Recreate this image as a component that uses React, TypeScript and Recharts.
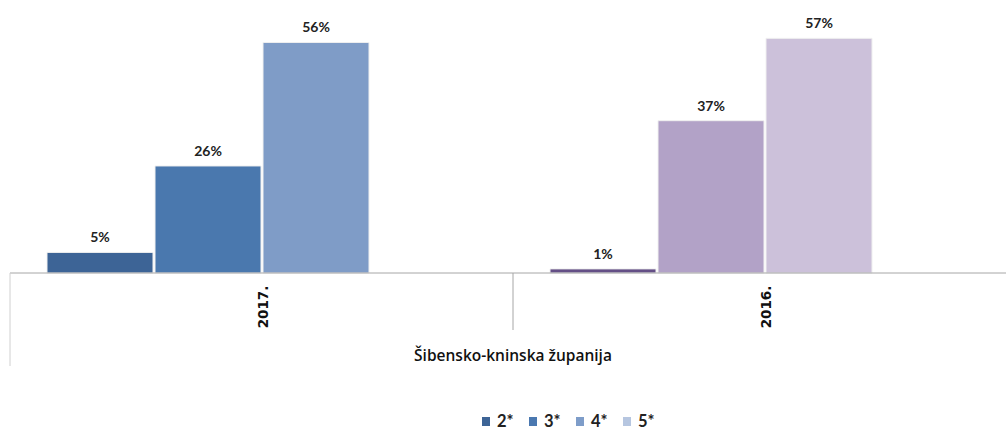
import React from 'react';
import { BarChart, Bar, XAxis, YAxis, Legend, Cell, LabelList, Label } from 'recharts';

const categories = ['2017.', '2016.'];
const seriesNames = ['2*', '3*', '4*', '5*'];
const values2: (number | null)[] = [5, 1];
const values3: (number | null)[] = [26, 37];
const values4: (number | null)[] = [56, 57];
const values5: (number | null)[] = [null, null];
const groupLabel = 'Šibensko-kninska županija';

const legendColors = ['#3d6496', '#4a78b0', '#7e9dc9', '#b6c6e0'];
const cellColors: string[][] = [
  ['#3d6496', '#644f86'],
  ['#4a78ae', '#b2a2c7'],
  ['#7f9cc7', '#ccc1da'],
  ['#b6c6e0', '#e0daea'],
];

const seriesValues = [values2, values3, values4, values5];
const keys = ['s2', 's3', 's4', 's5'];

const data = categories.map((c, i) => ({
  name: c,
  s2: values2[i],
  s3: values3[i],
  s4: values4[i],
  s5: values5[i],
}));

const FONT = 'Lato, "Open Sans", sans-serif';

const renderValueLabel = (props: any) => {
  const { x, y, width, value } = props;
  if (value === null || value === undefined) return null;
  return (
    <text
      x={x + width / 2}
      y={y - 10}
      textAnchor="middle"
      fontFamily={FONT}
      fontWeight={700}
      fontSize={14}
      fill="#222"
    >
      {value}%
    </text>
  );
};

const CategoryTick = (props: any) => {
  const { x, y, payload, index } = props;
  const off = payload && payload.offset ? payload.offset : 0;
  const left = x - off;
  const right = x + off;
  return (
    <g>
      <line
        x1={left}
        y1={y}
        x2={left}
        y2={y + (index === 0 ? 93 : 57)}
        stroke={index === 0 ? '#d0d0d0' : '#a6a6a6'}
        strokeWidth={1}
      />
      {index === categories.length - 1 && (
        <line x1={right} y1={y} x2={right} y2={y + 93} stroke="#d0d0d0" strokeWidth={1} />
      )}
      <text
        transform={`translate(${x + 1}, ${y + 34}) rotate(-90)`}
        textAnchor="middle"
        dominantBaseline="central"
        fontFamily='"DejaVu Sans", Verdana, sans-serif'
        fontWeight={700}
        fontSize={13.5}
        fill="#111"
      >
        {payload.value}
      </text>
    </g>
  );
};

const GroupLabel = (props: any) => {
  const vb = props.viewBox || { x: 10, y: 273, width: 1006 };
  return (
    <text
      x={vb.x + vb.width / 2}
      y={vb.y + 88}
      textAnchor="middle"
      fontFamily='"Open Sans", Lato, sans-serif'
      fontWeight={600}
      fontSize={15.5}
      fill="#111"
    >
      {groupLabel}
    </text>
  );
};

const LegendContent = () => (
  <div style={{ display: 'flex', alignItems: 'center', height: 20 }}>
    {seriesNames.map((n, i) => (
      <div key={n} style={{ display: 'flex', alignItems: 'center', width: 47 }}>
        <div style={{ width: 8, height: 9, background: legendColors[i], marginRight: 7 }} />
        <span
          style={{
            fontFamily: FONT,
            fontWeight: 700,
            fontSize: 16.5,
            color: '#222',
            lineHeight: '20px',
          }}
        >
          {n}
        </span>
      </div>
    ))}
  </div>
);

export default function App() {
  return (
    <div
      style={{
        position: 'absolute',
        left: 0,
        top: 0,
        width: 1006,
        height: 433,
        overflow: 'hidden',
        background: '#fff',
      }}
    >
      <BarChart
        width={1030}
        height={433}
        data={data}
        margin={{ top: 26, right: 14, bottom: 2, left: 10 }}
        barCategoryGap={37}
        barGap={2}
      >
        <XAxis
          dataKey="name"
          axisLine={{ stroke: '#a6a6a6' }}
          tickLine={false}
          tickSize={0}
          tickMargin={0}
          height={138}
          tick={<CategoryTick />}
          interval={0}
        >
          <Label content={<GroupLabel />} />
        </XAxis>
        <YAxis hide domain={[0, 60]} />
        <Legend
          verticalAlign="bottom"
          align="left"
          content={<LegendContent />}
          wrapperStyle={{ left: 482, width: 260, height: 20 }}
        />
        {keys.map((k, si) => (
          <Bar
            key={k}
            dataKey={k}
            name={seriesNames[si]}
            fill={legendColors[si]}
            stroke="#f0f0f0"
            strokeWidth={1}
            isAnimationActive={false}
          >
            {seriesValues[si].map((_, ci) => (
              <Cell key={ci} fill={cellColors[si][ci]} />
            ))}
            <LabelList dataKey={k} content={renderValueLabel} />
          </Bar>
        ))}
      </BarChart>
    </div>
  );
}
